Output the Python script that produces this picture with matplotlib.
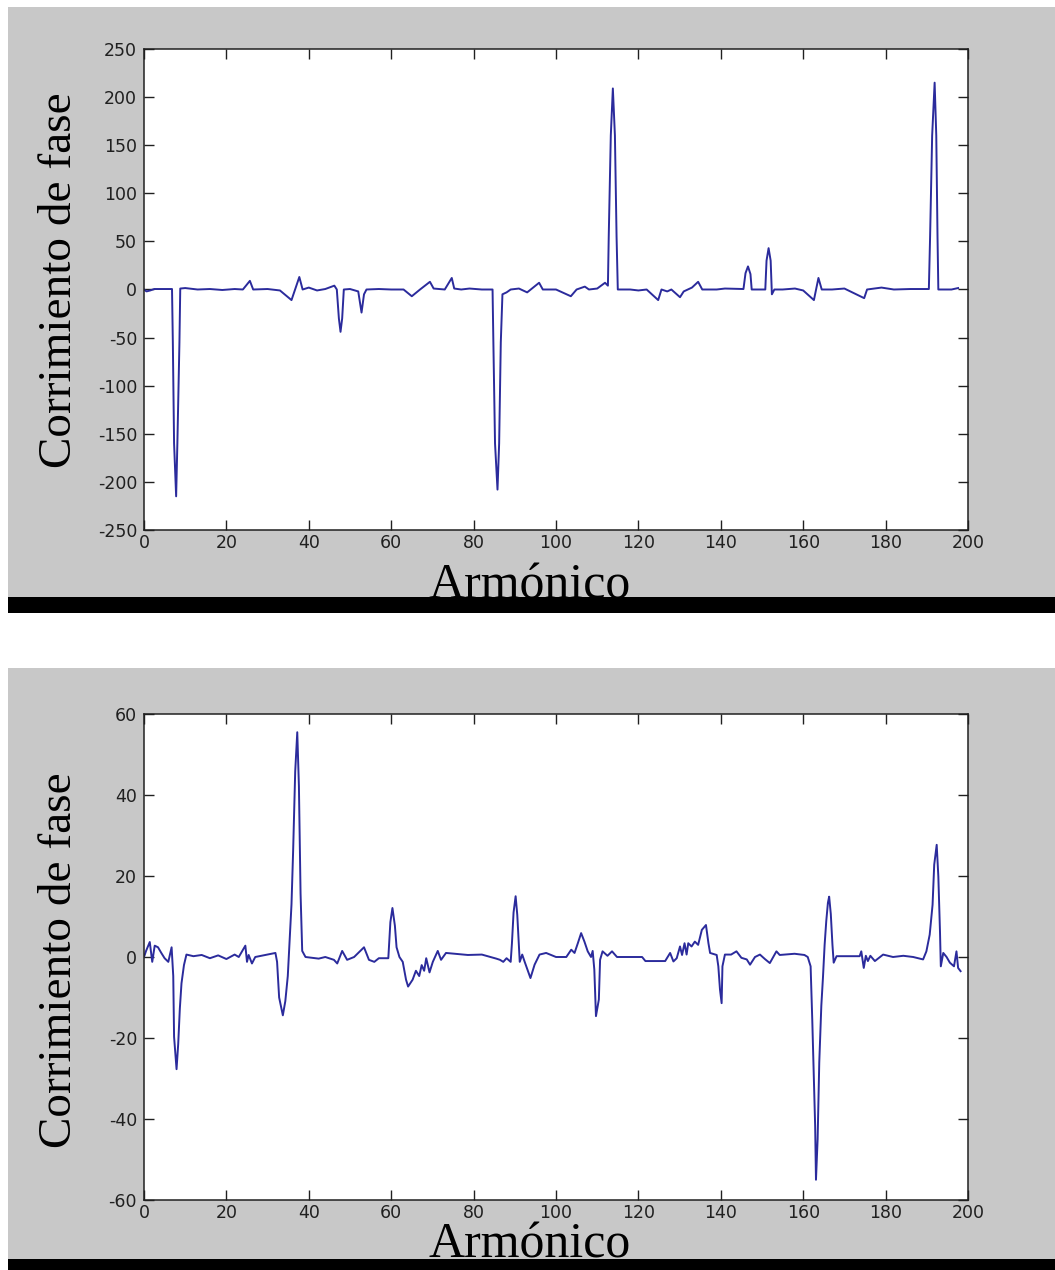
import matplotlib
matplotlib.use("Agg")
import matplotlib.pyplot as plt
from matplotlib.patches import Rectangle

plt.rcParams["axes.unicode_minus"] = False

# ---- datos ----
arm_sup = [0, 0.6, 1.5, 2.5, 6.8, 7.0, 7.3, 7.8, 8.1, 8.6, 8.8, 10, 13, 16, 19, 22, 24,
           25.7, 26.5, 30, 33, 35.8, 37.7, 38.5, 40, 42, 44, 46.2, 46.8, 47.3, 47.7, 48.1,
           48.5, 50, 52, 52.8, 53.4, 54, 57, 60, 63, 65, 67, 69.4, 70.3, 73, 74.7, 75.3,
           77, 79, 82, 84.6, 84.8, 85.2, 85.8, 86.2, 86.6, 87.0, 88, 89, 91, 93, 95.9,
           96.8, 100, 103.6, 105, 107, 108, 110, 111.9, 112.6, 112.8, 113.3, 113.8, 114.3,
           114.7, 115.0, 118, 120, 122, 124.8, 125.6, 127, 128, 130.1, 131, 133, 134.5,
           135.5, 139, 141, 145.5, 146, 146.6, 147.2, 147.5, 150.8, 151.1, 151.6, 152.1,
           152.4, 153, 155, 158, 160, 162.6, 163.7, 164.5, 167, 170, 174.8, 175.5, 179,
           182, 186, 190.5, 190.8, 191.3, 191.9, 192.3, 192.6, 192.8, 196, 197.6]
fase_sup = [0, -2, -1, 0.5, 0.5, -55, -160, -215, -160, -55, 1, 1.5, 0, 0.5, -0.5, 0.5, 0,
            9, 0, 0.5, -1, -11, 13, 0, 2, -1, 0.5, 4, 0, -30, -44, -30,
            0, 0.5, -2, -24, -5, 0, 0.5, 0, 0, -7, 0, 8, 1, 0, 12, 1,
            0, 1, 0, 0, -55, -160, -208, -160, -55, -5, -3, 0, 1, -3, 7,
            0, 0, -7, 0, 3, 0, 1, 7, 4, 55, 160, 209, 160,
            55, 0, 0, -1, 0, -11, 0, -2, 0, -8, -2, 2, 8,
            0, 0, 1, 0.5, 17, 24, 16, 0, 0, 30, 43, 30,
            -5, 0, 0, 1, -1, -11, 12, 0, 0, 1, -9, 0, 2,
            0, 0.5, 0.5, 55, 160, 215, 160, 55, 0, 0, 1.5]

arm_inf = [0, 0.5, 1.4, 2, 2.6, 3.4, 4.2, 5, 5.9, 6.7, 7.1, 7.3, 7.9, 8.3, 8.7, 9.1, 9.7,
           10.3, 12, 14, 16, 18, 20, 22, 23, 24.6, 25, 25.4, 26.2, 27, 31.9, 32.3, 32.8,
           33.7, 34.3, 34.9, 35.4, 35.8, 36.2, 36.7, 37.2, 37.6, 38, 38.4, 39.2, 42.4, 44,
           46.1, 46.9, 48.1, 49.3, 51, 53.4, 54.6, 55.9, 57, 59.3, 59.8, 60.3, 60.9, 61.3,
           62, 62.8, 63.6, 64.1, 65.2, 66, 66.8, 67.4, 68, 68.5, 69.3, 70.1, 71.3, 72.1,
           73.3, 78.6, 82, 85.5, 86.4, 87.2, 88, 89, 89.3, 89.7, 90.2, 90.6, 91, 91.2,
           91.8, 92.4, 93.8, 94.8, 96, 97.6, 100, 102.5, 103.7, 104.5, 105.3, 106.1, 106.9,
           107.7, 108.5, 108.9, 109.3, 109.7, 110.4, 110.7, 111.3, 112.5, 113.6, 114.8,
           120.9, 121.7, 126.5, 127.7, 128.5, 129.3, 130.1, 130.6, 131.2, 131.7, 132.1,
           132.9, 133.7, 134.5, 135.4, 136.4, 137, 137.4, 139, 139.4, 139.8, 140.2, 140.4,
           141, 142.5, 143.8, 145, 146.3, 147.1, 148.3, 149.5, 150.7, 151.9, 153.5, 154.3,
           157.9, 160.3, 161.1, 161.8, 162.2, 162.9, 163.1, 163.5, 163.9, 164.4, 164.8,
           165.2, 165.6, 166, 166.3, 166.7, 167.1, 167.4, 168.1, 173.7, 174.1, 174.7, 175.2,
           175.7, 176.3, 177.4, 179.4, 181.8, 184.3, 186.7, 189.1, 189.9, 190.7, 191.4,
           191.8, 192.4, 192.8, 193.2, 193.4, 194, 194.8, 195.6, 196.6, 197.2, 197.6, 198.2]
fase_inf = [0, 1.5, 3.7, -1.2, 2.8, 2.4, 1, -0.3, -1.2, 2.4, -4.7, -19.7, -27.7, -21.5,
            -12.7, -6.5, -2, 0.6, 0.2, 0.5, -0.3, 0.4, -0.5, 0.6, 0, 2.8, -1.2, 0.5, -1.6,
            0, 1, -1.2, -10, -14.4, -10.9, -4.7, 5, 13, 26.3, 45.8, 55.5, 42.2, 15.7, 1.5,
            0, -0.4, 0, -0.7, -1.6, 1.5, -0.7, 0, 2.4, -0.7, -1.2, -0.3, -0.3, 8.6, 12.1,
            7.7, 2.4, 0, -1.2, -5.6, -7.3, -5.6, -3.4, -4.7, -2, -3.4, -0.3, -3.8, -1.2,
            1.5, -0.7, 1, 0.5, 0.6, -0.4, -0.7, -1.2, -0.3, -1.2, 3.3, 11, 15, 10.4, 2.6,
            -1.2, 0.6, -1.2, -5.2, -1.9, 0.6, 1, 0, 0, 1.8, 1, 3.4, 5.9, 3.8, 1.4, 0, 1.5,
            -3.1, -14.6, -10.5, -0.7, 1.4, 0.3, 1.4, 0, 0, -1, -1, 1, -1.1, -0.3, 2.6, 0.5,
            3.4, 0.6, 3.4, 2.6, 3.8, 3, 6.7, 7.9, 3.4, 1, 0.5, -2.3, -8, -11.4, -2.3, 0.6,
            0.6, 1.4, -0.2, -0.6, -1.9, 0, 0.6, -0.5, -1.5, 1.4, 0.5, 0.8, 0.5, 0, -2.3,
            -15.5, -41.7, -55, -45, -26, -12, -5, 3, 8.9, 13.4, 14.9, 10.6, 3, -1.4, 0.2,
            0.2, 1.4, -2.7, 0.3, -1, 0.3, -1, 0.6, 0, 0.3, 0, -0.6, 1.4, 5.5, 12.9, 22.8,
            27.7, 19.9, 6.3, -2.3, 1, 0, -1.4, -2.3, 1.4, -2.7, -3.5]

ticks_x = list(range(0, 201, 20))
ticks_sup = list(range(-250, 251, 50))
ticks_inf = list(range(-60, 61, 20))

W, H = 1055, 1270
GRIS = "#c8c8c8"
AZUL = "#2b2b9c"
SERIF = ["Liberation Serif", "DejaVu Serif"]


def rect_px(x0, y0, x1, y1):
    """Rectangulo en pixeles (origen arriba a la izquierda) -> coordenadas de figura."""
    return [x0 / W, 1 - y1 / H, (x1 - x0) / W, (y1 - y0) / H]


def panel(fig, top, bottom, bar_end, ax_top, ax_bot, arm, fase, yticks, ylim, ylab_y, xlab_base):
    # fondo gris estilo matlab y barra negra abajo
    l, b, w, h = rect_px(8, top, W, bottom)
    fig.patches.append(Rectangle((l, b), w, h, transform=fig.transFigure,
                                 facecolor=GRIS, edgecolor="none", zorder=-1))
    l, b, w, h = rect_px(8, bottom, W, bar_end)
    fig.patches.append(Rectangle((l, b), w, h, transform=fig.transFigure,
                                 facecolor="black", edgecolor="none", zorder=10))

    ax = fig.add_axes(rect_px(144, ax_top, 968, ax_bot))
    ax.set_zorder(2)
    ax.plot(arm, fase, color=AZUL, lw=1.4)
    ax.set_xlim(0, 200)
    ax.set_ylim(*ylim)
    ax.set_xticks(ticks_x)
    ax.set_yticks(yticks)
    ax.tick_params(direction="in", length=7, width=1, top=True, right=True,
                   labelsize=12.5, colors="#202020")
    ax.tick_params(axis="x", pad=3)
    ax.tick_params(axis="y", pad=5)
    for s in ax.spines.values():
        s.set_linewidth(1.1)
        s.set_color("#202020")

    # etiquetas de los ejes
    fig.text(60 / W, 1 - ylab_y / H, "Corrimiento de fase",
             rotation=90, ha="center", va="center", fontsize=34, family=SERIF, zorder=5)
    fig.text(530 / W, 1 - xlab_base / H, "Armónico", ha="center", va="baseline",
             fontsize=36, family=SERIF, zorder=5)
    return ax


fig = plt.figure(figsize=(W / 100, H / 100), dpi=100)
fig.patch.set_facecolor("white")

panel(fig, 7, 597, 613, 49, 530, arm_sup, fase_sup, ticks_sup, (-250, 250), 280, 599)
panel(fig, 668, 1259, 1270, 714, 1200, arm_inf, fase_inf, ticks_inf, (-60, 60), 960, 1257)

fig.savefig("out.png", dpi=100)
